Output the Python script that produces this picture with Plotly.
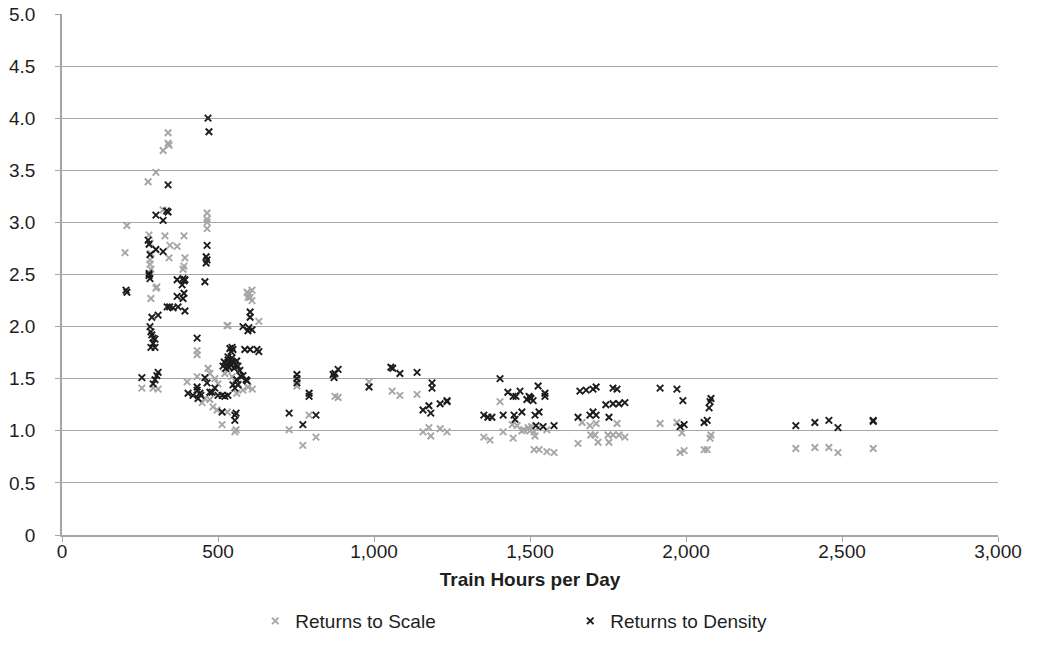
import plotly.graph_objects as go

# Returns to Scale (gray)
scale_x = [202, 208, 276, 301, 324, 340, 340, 343, 324, 279, 330, 391, 346, 369, 343, 394, 391, 388,
           285, 282, 282, 301, 285, 304, 282, 285, 256, 292, 308, 433, 433, 433, 401, 449,
           465, 465, 465, 465, 593, 609, 596, 609, 599, 603, 631, 532, 529,
           468, 474, 490, 500, 522, 530, 545, 555, 565, 580, 560, 596, 610, 458, 474, 484, 497, 513, 554, 558, 530,
           753, 728, 772, 814, 792, 875, 885, 984, 1058, 1083, 1138, 1157, 1176, 1182, 1212, 1234,
           1404, 1352, 1372, 1414, 1446, 1443, 1459, 1474, 1494, 1513, 1516, 1526, 1554, 1513, 1529, 1554, 1577,
           1480, 1500, 1505,
           1654, 1667, 1692, 1712, 1695, 1708, 1718, 1750, 1753, 1766, 1779, 1785, 1804,
           1917, 1971, 1987, 1981, 1994, 2058, 2068, 2077, 2080,
           2352, 2413, 2458, 2487, 2600]
scale_y = [2.71, 2.97, 3.39, 3.48, 3.69, 3.76, 3.86, 3.74, 3.12, 2.88, 2.87, 2.87, 2.78, 2.77, 2.66, 2.66, 2.58, 2.55,
           2.70, 2.64, 2.60, 2.37, 2.27, 2.38, 2.80, 2.55, 1.41, 1.41, 1.40, 1.73, 1.77, 1.52, 1.47, 1.27,
           3.09, 3.03, 3.00, 2.94, 2.33, 2.35, 2.28, 2.25, 2.31, 2.28, 2.05, 2.01, 2.01,
           1.60, 1.55, 1.50, 1.45, 1.55, 1.58, 1.52, 1.48, 1.45, 1.39, 1.36, 1.42, 1.40, 1.31, 1.30, 1.23, 1.20, 1.06, 0.99, 1.01, 1.18,
           1.43, 1.01, 0.86, 0.94, 1.15, 1.33, 1.32, 1.47, 1.38, 1.34, 1.35, 0.99, 1.03, 0.95, 1.02, 0.99,
           1.28, 0.94, 0.91, 0.99, 0.93, 1.06, 1.05, 1.00, 1.03, 0.99, 0.95, 1.03, 1.01, 0.82, 0.82, 0.80, 0.79,
           1.01, 1.00, 1.04,
           0.88, 1.08, 1.05, 1.07, 0.96, 0.96, 0.89, 0.96, 0.89, 0.96, 1.07, 0.96, 0.94,
           1.07, 1.08, 0.98, 0.79, 0.81, 0.82, 0.82, 0.93, 0.96,
           0.83, 0.84, 0.84, 0.79, 0.83]

# Returns to Density (black)
density_x = [205, 208, 256, 276, 279, 282, 279, 279, 282,
             282, 285, 288, 292, 292, 298, 285, 298, 288, 308, 298, 304, 308, 292,
             301, 324, 340, 335, 340, 301, 324,
             337, 345, 356, 372, 394, 369, 388, 391, 385, 394, 369, 388, 391,
             404, 420, 433, 433, 436, 445, 433,
             468, 471, 465, 462, 465, 462, 458,
             458, 465, 442, 474, 490, 513, 522, 532, 548, 574, 593, 481, 500,
             513, 558, 554, 554,
             516, 520, 525, 529, 532, 535, 538, 542, 545, 548, 552, 556, 560, 564, 570,
             545, 548, 538, 542, 532, 586, 603, 625, 631,
             580, 599, 596, 609, 603, 603, 580, 590, 560, 564, 554,
             728, 753, 753, 753, 772, 792, 792, 814, 869, 872, 885, 875,
             984, 1054, 1060, 1083, 1138, 1186, 1186, 1157, 1176, 1182, 1212, 1234, 1234,
             1404, 1352, 1365, 1378, 1414, 1429, 1446, 1455, 1468, 1490, 1497, 1503, 1526, 1548, 1548,
             1449, 1452, 1474, 1516, 1529, 1519, 1542, 1577, 1500, 1510,
             1660, 1680, 1702, 1712, 1766, 1779, 1654, 1692, 1712, 1702, 1753, 1743, 1766, 1785, 1804,
             1917, 1971, 1990, 1981, 1994, 2058, 2068, 2074, 2077, 2080,
             2352, 2413, 2458, 2487, 2600, 2600]
density_y = [2.35, 2.33, 1.51, 2.83, 2.79, 2.69, 2.51, 2.49, 2.46,
             2.00, 1.95, 1.92, 1.89, 1.84, 1.80, 1.80, 1.88, 2.09, 2.11, 1.49, 1.53, 1.56, 1.45,
             3.07, 3.02, 3.10, 3.11, 3.36, 2.74, 2.72,
             2.19, 2.19, 2.18, 2.19, 2.15, 2.29, 2.27, 2.32, 2.40, 2.45, 2.45, 2.46, 2.44,
             1.36, 1.34, 1.42, 1.39, 1.31, 1.34, 1.89,
             4.00, 3.87, 2.78, 2.67, 2.64, 2.61, 2.43,
             1.51, 1.46, 1.36, 1.37, 1.41, 1.34, 1.33, 1.34, 1.44, 1.52, 1.48, 1.37, 1.34,
             1.18, 1.17, 1.15, 1.10,
             1.62, 1.66, 1.60, 1.64, 1.68, 1.61, 1.65, 1.63, 1.70, 1.66, 1.60, 1.63, 1.67, 1.62, 1.58,
             1.80, 1.78, 1.79, 1.76, 1.71, 1.78, 1.78, 1.78, 1.76,
             2.00, 1.99, 1.96, 1.97, 2.14, 2.09, 1.53, 1.49, 1.49, 1.44, 1.41,
             1.17, 1.54, 1.50, 1.46, 1.06, 1.36, 1.33, 1.15, 1.54, 1.51, 1.59, 1.55,
             1.42, 1.61, 1.60, 1.55, 1.56, 1.46, 1.41, 1.20, 1.24, 1.17, 1.26, 1.28, 1.29,
             1.50, 1.15, 1.13, 1.13, 1.15, 1.37, 1.33, 1.33, 1.38, 1.30, 1.33, 1.31, 1.43, 1.33, 1.36,
             1.15, 1.11, 1.18, 1.15, 1.18, 1.05, 1.04, 1.05, 1.32, 1.29,
             1.38, 1.39, 1.40, 1.42, 1.41, 1.40, 1.13, 1.15, 1.15, 1.18, 1.13, 1.25, 1.26, 1.26, 1.27,
             1.41, 1.40, 1.29, 1.04, 1.06, 1.08, 1.10, 1.22, 1.28, 1.31,
             1.05, 1.08, 1.10, 1.03, 1.10, 1.09]

y_tickvals = [0, 0.5, 1.0, 1.5, 2.0, 2.5, 3.0, 3.5, 4.0, 4.5, 5.0]
y_ticktext = ["0", "0.5", "1.0", "1.5", "2.0", "2.5", "3.0", "3.5", "4.0", "4.5", "5.0"]
x_tickvals = [0, 500, 1000, 1500, 2000, 2500, 3000]
x_ticktext = ["0", "500", "1,000", "1,500", "2,000", "2,500", "3,000"]

GRAY = "#a6a6a6"
BLACK = "#1c1c1c"
TEXT = "#1e1e1e"
FONT = "Liberation Sans, Arial, sans-serif"

fig = go.Figure()
fig.add_trace(go.Scatter(
    x=scale_x, y=scale_y, mode="markers", name="Returns to Scale",
    marker=dict(symbol="x-thin", size=6.5, color=GRAY, line=dict(color=GRAY, width=1.9)),
))
fig.add_trace(go.Scatter(
    x=density_x, y=density_y, mode="markers", name="Returns to Density",
    marker=dict(symbol="x-thin", size=6.5, color=BLACK, line=dict(color=BLACK, width=1.9)),
))

fig.update_layout(
    width=1042, height=657,
    margin=dict(l=62, r=44, t=14, b=122),
    paper_bgcolor="white", plot_bgcolor="white",
    font=dict(family=FONT, size=19, color=TEXT),
    showlegend=True,
    legend=dict(orientation="h", x=0.543, xanchor="center", y=-0.165, yanchor="middle",
                font=dict(size=19, color=TEXT), entrywidth=270, entrywidthmode="pixels",
                itemsizing="trace"),
    xaxis=dict(range=[0, 3000], tickvals=x_tickvals, ticktext=x_ticktext, automargin=False,
               showgrid=False, zeroline=False, showline=True, linecolor=GRAY, linewidth=1.5,
               ticks="outside", ticklen=5, tickcolor=GRAY, tickfont=dict(size=19, color=TEXT),
               ticklabelstandoff=-7,
               title=dict(text="<b>Train Hours per Day</b>", font=dict(size=19, color=TEXT), standoff=12)),
    yaxis=dict(range=[0, 5.0], tickvals=y_tickvals, ticktext=y_ticktext, automargin=False,
               showgrid=True, gridcolor=GRAY, gridwidth=1.3, zeroline=False,
               showline=True, linecolor=GRAY, linewidth=1.5,
               ticks="outside", ticklen=5, tickcolor=GRAY, tickfont=dict(size=19, color=TEXT),
               ticklabelstandoff=16),
)

fig.write_html("out.html", config={"displayModeBar": False},
               post_script="document.body.style.margin='0';")
